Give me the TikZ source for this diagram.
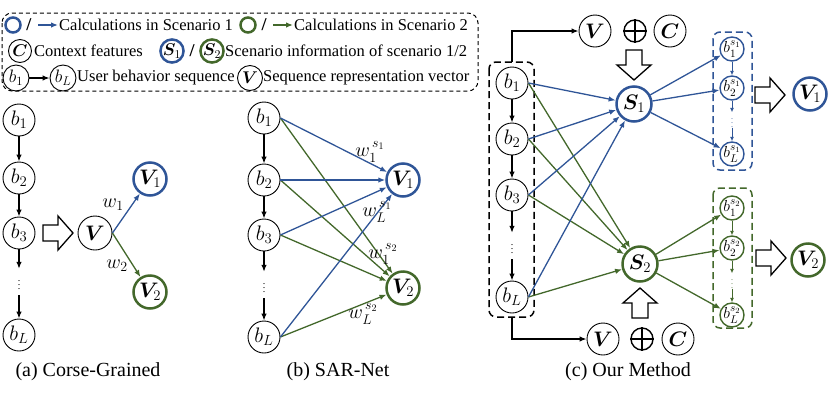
\RequirePackage{fix-cm}
\documentclass[tikz,border=0pt]{standalone}
\usepackage{fontspec}
\setmainfont{Liberation Serif}
\usepackage{amsmath,bm}
\usetikzlibrary{arrows.meta}
\definecolor{cblue}{RGB}{47,85,151}
\definecolor{cgreen}{RGB}{67,104,43}
\tikzset{
  hollow/.pic={\draw[line width=1.3pt,fill=white,line join=miter]
    (-15,-8)--(0,-8)--(0,-17)--(15,0)--(0,17)--(0,8)--(-15,8)--cycle;}
}
\begin{document}
\begin{tikzpicture}[x=1pt,y=-1pt,
  every node/.style={inner sep=0pt},
  nd/.style={circle,draw,line width=0.9pt,minimum size=32pt,font=\fontsize{21}{21}\selectfont},
  bnd/.style={nd,draw=cblue,line width=2.5pt},
  gnd/.style={nd,draw=cgreen,line width=2.5pt},
  sm/.style={circle,draw,line width=1.4pt,minimum size=24pt,font=\fontsize{16}{16}\selectfont},
  lc/.style={circle,draw,line width=0.9pt,minimum size=23pt,font=\fontsize{17}{17}\selectfont},
  arr/.style={-{Latex[length=7pt,width=5.5pt]},line width=1.3pt},
  sarr/.style={-{Latex[length=4.5pt,width=4pt]},line width=1pt},
  lbl/.style={font=\fontsize{16.5}{18}\selectfont,anchor=west},
  sl/.style={font=\fontsize{18}{18}\selectfont\bfseries},
  captext/.style={font=\fontsize{20}{22}\selectfont},
  wl/.style={font=\fontsize{20}{20}\selectfont},
  dts/.style={font=\fontsize{10}{10}\selectfont,minimum height=26pt},
  sdts/.style={font=\fontsize{8}{8}\selectfont,minimum height=14pt},
  dbox/.style={dashed,dash pattern=on 7pt off 4pt,line width=1.5pt,rounded corners=7pt},
  plus/.style={circle,draw,line width=1.4pt,minimum size=22pt}
]
\useasboundingbox (0,0) rectangle (830,397);

% ---------- legend ----------
\draw[line width=1pt,dash pattern=on 4pt off 3pt,rounded corners=10pt] (2,13) rectangle (478,91);
\node[lc,minimum size=15pt,draw=cblue,line width=2.5pt] (lg1) at (13,25) {};
\node[sl] (ls1) at (29,25) {/};
\coordinate (la1s) at (38,25);
\coordinate (la1e) at (58,25);
\draw[arr,cblue] (la1s) -- (la1e);
\node[lbl] (lt1) at (59,25) {Calculations in Scenario 1};
\node[lc,minimum size=15pt,draw=cgreen,line width=2.5pt] (lg2) at (248,25) {};
\node[sl] (ls2) at (264,25) {/};
\coordinate (la2s) at (273,25);
\coordinate (la2e) at (293,25);
\draw[arr,cgreen] (la2s) -- (la2e);
\node[lbl] (lt2) at (294,25) {Calculations in Scenario 2};

\node[lc] (lC) at (20,51) {$\bm{C}$};
\node[lbl] (lt3) at (34,51) {Context features};
\node[lc,draw=cblue,line width=2.5pt] (lS1) at (172,51) {$\bm{S}_1$};
\node[sl] (ls3) at (192,51) {/};
\node[lc,draw=cgreen,line width=2.5pt] (lS2) at (212,51) {$\bm{S}_2$};
\node[lbl] (lt4) at (225,51) {Scenario information of scenario 1/2};

\node[lc,minimum size=26pt,font=\fontsize{18}{18}\selectfont] (lb1) at (16,78) {$b_1$};
\node[lc,minimum size=26pt,font=\fontsize{18}{18}\selectfont] (lbL) at (63,78) {$b_L$};
\draw[arr] (lb1) -- (lbL);
\node[lbl] (lt5) at (77,78) {User behavior sequence};
\node[lc,minimum size=25pt] (lV) at (250,78) {$\bm{V}$};
\node[lbl] (lt6) at (263,78) {Sequence representation vector};

% ---------- (a) ----------
\node[nd] (a1) at (19,120) {$b_1$};
\node[nd] (a2) at (19,178) {$b_2$};
\node[nd] (a3) at (19,233) {$b_3$};
\node[dts] (ad) at (19,282) {$\vdots$};
\node[nd] (aL) at (19,335) {$b_L$};
\draw[arr] (a1) -- (a2);
\draw[arr] (a2) -- (a3);
\draw[arr] (a3) -- (ad);
\draw[arr] (ad) -- (aL);
\path (58,233) pic {hollow};
\node[nd,minimum size=34pt] (aV) at (95,233) {$\bm{V}$};
\node[bnd,minimum size=33pt] (aV1) at (150,179) {$\bm{V}_1$};
\node[gnd,minimum size=33pt] (aV2) at (150,292) {$\bm{V}_2$};
\draw[arr,cblue] (aV.east) -- (aV1);
\draw[arr,cgreen] (aV.east) -- (aV2);
\node[wl] (aw1) at (113,205) {$w_1$};
\node[wl] (aw2) at (117,266) {$w_2$};
\node[captext] (capa) at (88,372) {(a) Corse-Grained};

% ---------- (b) ----------
\node[nd] (b1) at (264,118) {$b_1$};
\node[nd] (b2) at (264,180) {$b_2$};
\node[nd] (b3) at (264,235) {$b_3$};
\node[dts] (bd) at (264,285) {$\vdots$};
\node[nd] (bL) at (264,337) {$b_L$};
\draw[arr] (b1) -- (b2);
\draw[arr] (b2) -- (b3);
\draw[arr] (b3) -- (bd);
\draw[arr] (bd) -- (bL);
\node[bnd,minimum size=33pt] (bV1) at (403,180) {$\bm{V}_1$};
\node[gnd,minimum size=33pt] (bV2) at (403,288) {$\bm{V}_2$};
\foreach \n in {b1,b2,b3,bL}{
  \draw[arr,cgreen] (\n.east) -- (bV2);
}
\foreach \n in {b1,b2,b3,bL}{
  \draw[arr,cblue] (\n.east) -- (bV1);
}
\node[wl] (bw1) at (370,152) {$w_1^{\,s_1}$};
\node[wl] (bw2) at (377,212) {$w_L^{\,s_1}$};
\node[wl] (bw3) at (383,254) {$w_1^{\,s_2}$};
\node[wl] (bw4) at (363,314) {$w_L^{\,s_2}$};
\node[captext] (capb) at (338,372) {(b) SAR-Net};

% ---------- (c) ----------
\draw[dbox] (489,62) rectangle (534,317);
\node[nd] (c1) at (512,83) {$b_1$};
\node[nd] (c2) at (512,139) {$b_2$};
\node[nd] (c3) at (512,195) {$b_3$};
\node[dts] (cd) at (512,246) {$\vdots$};
\node[nd] (cL) at (512,297) {$b_L$};
\draw[arr] (c1) -- (c2);
\draw[arr] (c2) -- (c3);
\draw[arr] (c3) -- (cd);
\draw[arr] (cd) -- (cL);

\node[nd] (cVt) at (595,31) {$\bm{V}$};
\node[plus] (cPt) at (635,31) {};
\draw[line width=1.4pt] (cPt.north) -- (cPt.south) (cPt.west) -- (cPt.east);
\node[nd] (cCt) at (670,31) {$\bm{C}$};
\coordinate (ctop) at (512,62);
\draw[arr] (ctop) |- (cVt);
\path (634,65) pic[rotate=-90] {hollow};

\node[bnd,minimum size=35pt] (S1) at (634,104) {$\bm{S}_1$};
\node[gnd,minimum size=35pt] (S2) at (640,264) {$\bm{S}_2$};
\path (640,303) pic[rotate=90] {hollow};

\node[nd] (cVb) at (603,339) {$\bm{V}$};
\node[plus] (cPb) at (642,339) {};
\draw[line width=1.4pt] (cPb.north) -- (cPb.south) (cPb.west) -- (cPb.east);
\node[nd] (cCb) at (678,339) {$\bm{C}$};
\coordinate (cbot) at (512,317);
\draw[arr] (cbot) |- (cVb);

\foreach \n in {c1,c2,c3,cL}{
  \draw[arr,cgreen] (\n.east) -- (S2);
}
\foreach \n in {c1,c2,c3,cL}{
  \draw[arr,cblue] (\n.east) -- (S1);
}

% right blue box
\draw[dbox,cblue] (713,32) rectangle (752,170);
\node[sm,draw=cblue] (s11) at (732,49) {$b_1^{s_1}$};
\node[sm,draw=cblue] (s12) at (732,88) {$b_2^{s_1}$};
\node[sdts,text=cblue] (s1d) at (732,120) {$\vdots$};
\node[sm,draw=cblue] (s1L) at (732,154) {$b_L^{s_1}$};
\draw[sarr,cblue] (s11) -- (s12);
\draw[sarr,cblue] (s12) -- (s1d);
\draw[sarr,cblue] (s1d) -- (s1L);
\draw[arr,cblue] (S1) -- (s11);
\draw[arr,cblue] (S1) -- (s12);
\draw[arr,cblue] (S1) -- (s1L);
\path (770,95) pic {hollow};
\node[bnd,minimum size=33pt] (cV1) at (810,94) {$\bm{V}_1$};

% right green box
\draw[dbox,cgreen] (713,188) rectangle (752,328);
\node[sm,draw=cgreen] (s21) at (732,208) {$b_1^{s_2}$};
\node[sm,draw=cgreen] (s22) at (732,248) {$b_2^{s_2}$};
\node[sdts,text=cgreen] (s2d) at (732,281) {$\vdots$};
\node[sm,draw=cgreen] (s2L) at (732,315) {$b_L^{s_2}$};
\draw[sarr,cgreen] (s21) -- (s22);
\draw[sarr,cgreen] (s22) -- (s2d);
\draw[sarr,cgreen] (s2d) -- (s2L);
\draw[arr,cgreen] (S2) -- (s21);
\draw[arr,cgreen] (S2) -- (s22);
\draw[arr,cgreen] (S2) -- (s2L);
\path (771,258) pic {hollow};
\node[gnd,minimum size=33pt] (cV2) at (808,260) {$\bm{V}_2$};

\node[captext] (capc) at (628,372) {(c) Our Method};
\end{tikzpicture}
\end{document}
